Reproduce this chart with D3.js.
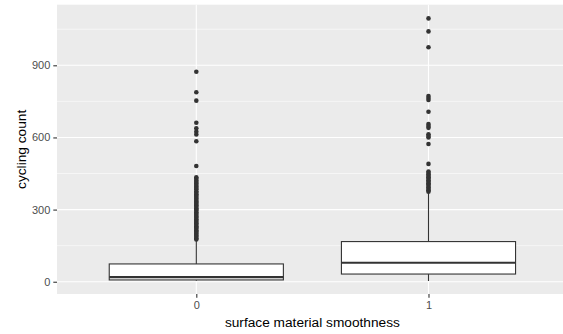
<!DOCTYPE html>
<html>
<head>
<meta charset="utf-8">
<script src="https://cdn.jsdelivr.net/npm/d3@7"></script>
<style>
  body { margin: 0; background: #fff; }
  svg { display: block; font-family: "Liberation Sans", Arial, sans-serif; }
</style>
</head>
<body>
<svg id="chart"></svg>
<script>
// box summaries
const groups = ["0", "1"];
const lowerWhisker = [4, 3];
const q1 = [7.5, 32];
const median = [19, 79];
const q3 = [74, 167];
const upperWhisker = [174, 368];

const outliers0 = [873, 788, 753, 661, 638, 624, 612, 584, 481,
  434, 428, 421, 415, 409, 402, 396, 390, 385,
  376, 370, 364, 358, 352, 346, 340, 334, 328, 323,
  318, 312, 306, 300, 295, 289, 283, 277, 271, 266, 260, 254, 248, 243,
  237, 231, 226, 220, 214, 209, 203, 198, 192, 187, 181, 176];
const outliers1 = [1095, 1041, 975, 772, 764, 756, 707, 656, 648, 640,
  613, 606, 600, 573, 490,
  458, 452, 446, 440, 434, 428, 422, 416, 410, 404, 398, 392, 386, 380, 374];

const yTicks = [0, 300, 600, 900];
const yMinor = [150, 450, 750, 1050];

const W = 563, H = 334;
const panel = { left: 57, top: 4.7, right: 567.8, bottom: 294 };

const svg = d3.select("#chart").attr("width", W).attr("height", H);

const x = d3.scalePoint()
  .domain(groups)
  .range([panel.left, panel.right])
  .padding(0.6);

const y = d3.scaleLinear()
  .domain([-51, 1152])
  .range([panel.bottom, panel.top]);

const boxW = x.step() * 0.75;

// panel background
svg.append("rect")
  .attr("x", panel.left).attr("y", panel.top)
  .attr("width", panel.right - panel.left)
  .attr("height", panel.bottom - panel.top)
  .attr("fill", "#EBEBEB");

const grid = svg.append("g");
grid.selectAll(".minor").data(yMinor).join("line")
  .attr("x1", panel.left).attr("x2", panel.right)
  .attr("y1", d => y(d)).attr("y2", d => y(d))
  .attr("stroke", "#fff").attr("stroke-width", 0.55);
grid.selectAll(".major").data(yTicks).join("line")
  .attr("x1", panel.left).attr("x2", panel.right)
  .attr("y1", d => y(d)).attr("y2", d => y(d))
  .attr("stroke", "#fff").attr("stroke-width", 1.1);
grid.selectAll(".vmajor").data(groups).join("line")
  .attr("x1", d => x(d)).attr("x2", d => x(d))
  .attr("y1", panel.top).attr("y2", panel.bottom)
  .attr("stroke", "#fff").attr("stroke-width", 1.1);

// boxes
const boxes = svg.append("g");
groups.forEach((g, i) => {
  const cx = x(g);
  boxes.append("line")
    .attr("x1", cx).attr("x2", cx)
    .attr("y1", y(q3[i])).attr("y2", y(upperWhisker[i]))
    .attr("stroke", "#333").attr("stroke-width", 1.1);
  boxes.append("line")
    .attr("x1", cx).attr("x2", cx)
    .attr("y1", y(q1[i])).attr("y2", y(lowerWhisker[i]))
    .attr("stroke", "#333").attr("stroke-width", 1.1);
  boxes.append("rect")
    .attr("x", cx - boxW / 2).attr("width", boxW)
    .attr("y", y(q3[i])).attr("height", y(q1[i]) - y(q3[i]))
    .attr("fill", "#fff").attr("stroke", "#333").attr("stroke-width", 1.1);
  boxes.append("line")
    .attr("x1", cx - boxW / 2).attr("x2", cx + boxW / 2)
    .attr("y1", y(median[i])).attr("y2", y(median[i]))
    .attr("stroke", "#333").attr("stroke-width", 2.2);
});

// outliers
[outliers0, outliers1].forEach((pts, i) => {
  svg.append("g").selectAll("circle").data(pts).join("circle")
    .attr("cx", x(groups[i]))
    .attr("cy", d => y(d))
    .attr("r", 2.3)
    .attr("fill", "#333");
});

// axes
const yAxis = d3.axisLeft(y).tickValues(yTicks).tickSize(3.7).tickPadding(3);
const yG = svg.append("g").attr("transform", `translate(${panel.left},0)`).call(yAxis);
const xAxis = d3.axisBottom(x).tickSize(3.7).tickPadding(3);
const xG = svg.append("g").attr("transform", `translate(0,${panel.bottom})`).call(xAxis);

[yG, xG].forEach(g => {
  g.select(".domain").remove();
  g.selectAll(".tick line").attr("stroke", "#333").attr("stroke-width", 1.1);
  g.selectAll(".tick text")
    .attr("fill", "#4D4D4D")
    .style("font-size", "11px")
    .style("font-family", "Liberation Sans, Arial, sans-serif");
});

svg.append("text")
  .attr("x", (panel.left + panel.right) / 2)
  .attr("y", 327)
  .attr("text-anchor", "middle")
  .style("font-size", "13.7px")
  .attr("fill", "#000")
  .text("surface material smoothness");

svg.append("text")
  .attr("transform", `translate(26,${(panel.top + panel.bottom) / 2}) rotate(-90)`)
  .attr("text-anchor", "middle")
  .style("font-size", "13.7px")
  .attr("fill", "#000")
  .text("cycling count");
</script>
</body>
</html>
